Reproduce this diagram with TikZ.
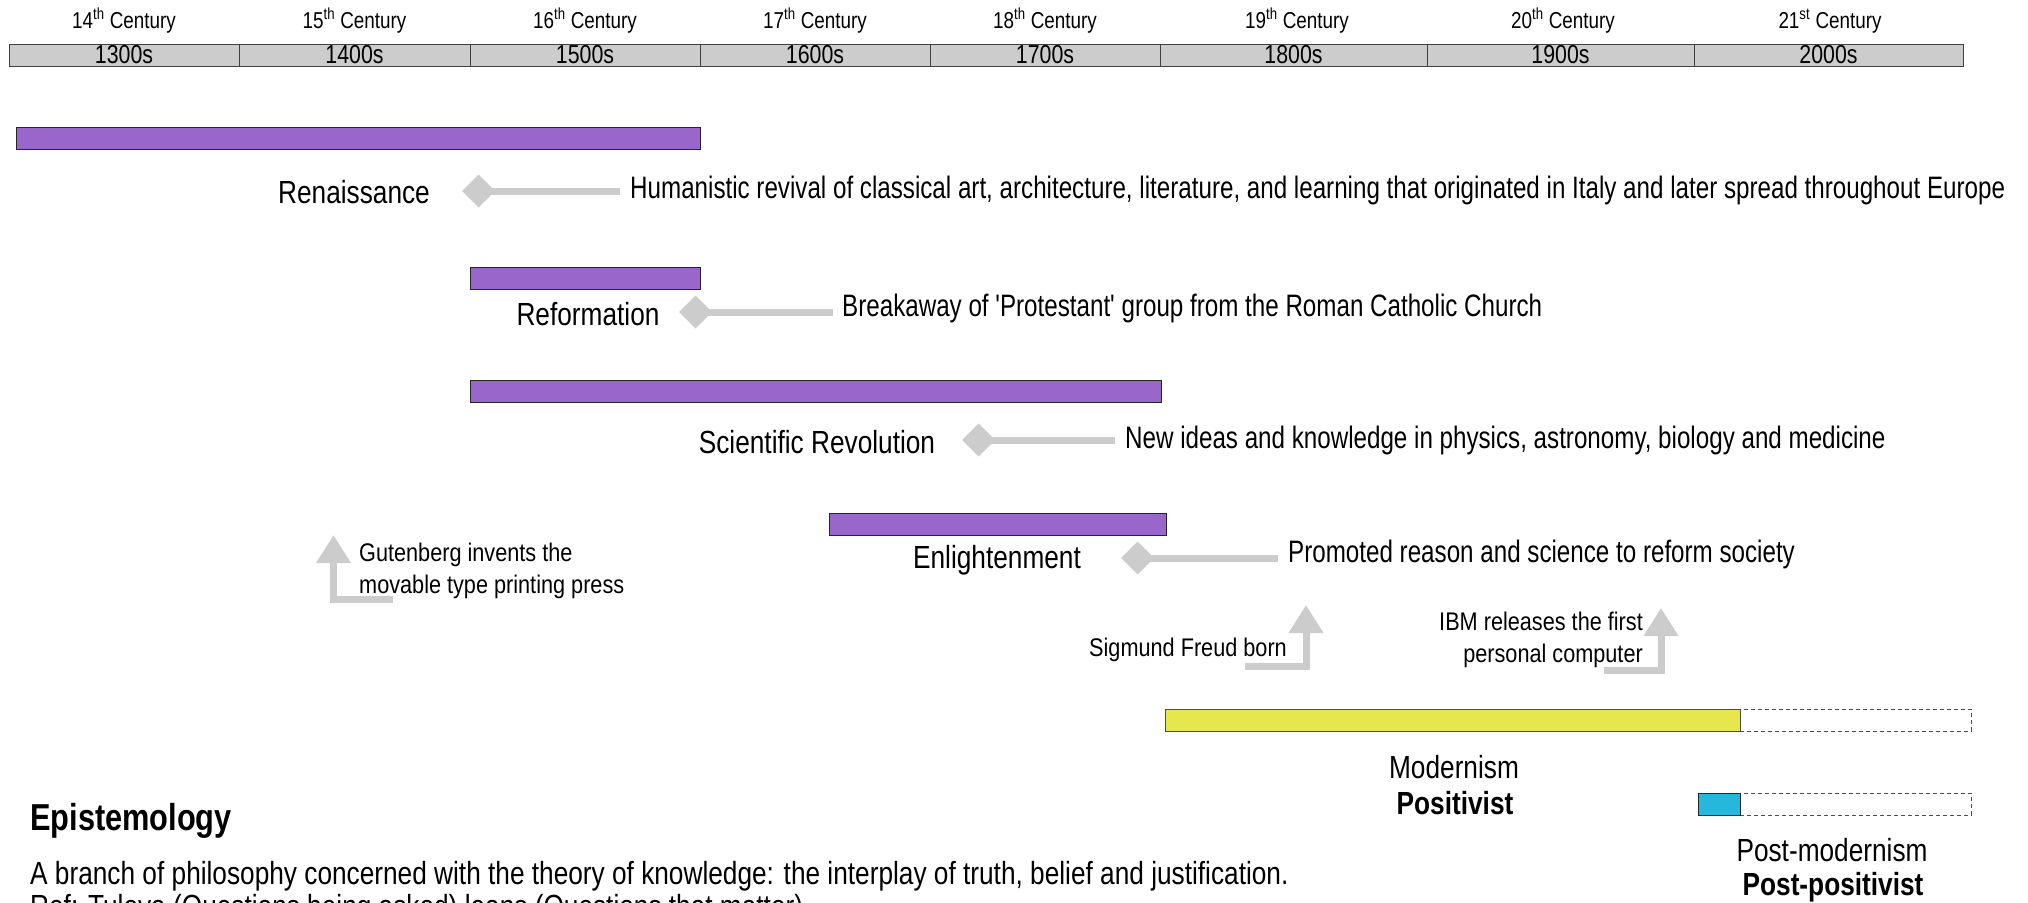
\documentclass[tikz,border=0pt]{standalone}
\usepackage{fontspec}
\setmainfont[FakeStretch=0.82]{Liberation Sans}
\newfontfamily\descfont[FakeStretch=0.78]{Liberation Sans}
\newfontfamily\notefont[FakeStretch=0.85]{Liberation Sans}
\usetikzlibrary{arrows.meta}
\definecolor{purp}{RGB}{153,102,204}
\definecolor{yel}{RGB}{230,230,77}
\definecolor{cyn}{RGB}{36,185,220}
\definecolor{lgray}{RGB}{204,204,204}
\definecolor{hdr}{RGB}{204,204,204}
\newcommand\fsCent{\fontsize{23}{27}\selectfont}
\newcommand\fsDec{\fontsize{26}{29}\selectfont}
\newcommand\fsMain{\fontsize{32}{38}\selectfont}
\newcommand\fsDesc{\descfont\fontsize{31}{37}\selectfont}
\newcommand\fsSmall{\notefont\fontsize{25.5}{32}\selectfont}
\newcommand\fsTitle{\fontsize{37.5}{44}\selectfont}
\tikzset{
  decade/.style={draw=black!75, line width=1pt, fill=hdr, inner sep=0pt, minimum height=22pt, font=\fsDec},
  cent/.style={inner sep=0pt, font=\fsCent},
  era/.style={draw=black!85, line width=1pt, inner sep=0pt, minimum height=22pt},
  future/.style={draw=black!70, line width=1pt, dashed, dash pattern=on 4pt off 3pt, inner sep=0pt, minimum height=22pt},
  lbl/.style={inner sep=0pt, font=\fsMain},
  desc/.style={inner sep=0pt, font=\fsDesc, anchor=west},
  note/.style={inner sep=0pt, font=\fsSmall},
  conn/.style={draw=lgray, line width=7pt, -{Diamond[length=33pt,width=33pt,fill=lgray]}},
  bent/.style={draw=lgray, line width=7pt, miter limit=10, -{Triangle[length=28pt,width=33pt,fill=lgray]}}
}
\begin{document}
\begin{tikzpicture}[x=1pt,y=-1pt]
\useasboundingbox (0,0) rectangle (2028,902);
\clip (0,0) rectangle (2028,902);
% header
\node[decade, minimum width=230pt] (d13) at (124,55) {1300s};
\node[decade, minimum width=231pt] (d14) at (354.5,55) {1400s};
\node[decade, minimum width=230pt] (d15) at (585,55) {1500s};
\node[decade, minimum width=230pt] (d16) at (815,55) {1600s};
\node[decade, minimum width=230pt] (d17) at (1045,55) {1700s};
\node[decade, minimum width=267pt] (d18) at (1293.5,55) {1800s};
\node[decade, minimum width=267pt] (d19) at (1560.5,55) {1900s};
\node[decade, minimum width=269pt] (d20) at (1828.5,55) {2000s};
\node[cent] (c14) at (124,21) {14\textsuperscript{th} Century};
\node[cent] (c15) at (354.5,21) {15\textsuperscript{th} Century};
\node[cent] (c16) at (585,21) {16\textsuperscript{th} Century};
\node[cent] (c17) at (815,21) {17\textsuperscript{th} Century};
\node[cent] (c18) at (1045,21) {18\textsuperscript{th} Century};
\node[cent] (c19) at (1297,21) {19\textsuperscript{th} Century};
\node[cent] (c20) at (1563,21) {20\textsuperscript{th} Century};
\node[cent] (c21) at (1830,21) {21\textsuperscript{st} Century};
% era bars
\node[era, fill=purp, minimum width=684pt] (renB) at (358,138.5) {};
\node[era, fill=purp, minimum width=230pt] (refB) at (585,278) {};
\node[era, fill=purp, minimum width=691pt] (sciB) at (815.5,391) {};
\node[era, fill=purp, minimum width=337pt] (enlB) at (997.5,524) {};
\node[future, minimum width=231pt] (modF) at (1855.5,720) {};
\node[future, minimum width=231pt] (posF) at (1855.5,804) {};
\node[era, fill=yel, draw=black!70, minimum width=575pt] (modB) at (1452.5,720) {};
\node[era, fill=cyn, minimum width=42pt] (posB) at (1719,804) {};
% labels
\node[lbl] (renL) at (354,192) {Renaissance};
\node[lbl] (refL) at (588,314) {Reformation};
\node[lbl] (sciL) at (817,442) {Scientific Revolution};
\node[lbl] (enlL) at (997,560) {Enlightenment};
\node[lbl] (modL) at (1454,767) {Modernism};
\node[lbl, font=\fsMain\bfseries] (modP) at (1455,803) {Positivist};
\node[lbl] (posL) at (1832,850) {Post-modernism};
\node[lbl, font=\fsMain\bfseries] (posP) at (1833,887) {Post-positivist};
% descriptions
\node[desc] (renT) at (630,190) {Humanistic revival of classical art, architecture, literature, and learning that originated in Italy and later spread throughout Europe};
\node[desc] (refT) at (842,308) {Breakaway of 'Protestant' group from the Roman Catholic Church};
\node[desc] (sciT) at (1125,440) {New ideas and knowledge in physics, astronomy, biology and medicine};
\node[desc] (enlT) at (1288,554) {Promoted reason and science to reform society};
\coordinate (renD) at (462,191);
\coordinate (refD) at (679,312);
\coordinate (sciD) at (962,440);
\coordinate (enlD) at (1121,558);
\draw[conn] ([xshift=-10pt]renT.west |- renD) -- (renD);
\draw[conn] ([xshift=-9pt]refT.west |- refD) -- (refD);
\draw[conn] ([xshift=-10pt]sciT.west |- sciD) -- (sciD);
\draw[conn] ([xshift=-10pt]enlT.west |- enlD) -- (enlD);
% events
\node[note, anchor=west, align=left] (gutT) at (359,571) {Gutenberg invents the\\movable type printing press};
\node[note, anchor=east] (freT) at (1287,650) {Sigmund Freud born};
\node[note, anchor=east, align=right] (ibmT) at (1643,640) {IBM releases the first\\personal computer};
\coordinate (gutS) at (393,599.5);
\coordinate (gutC) at (333.5,599.5);
\coordinate (gutA) at (333.5,535);
\coordinate (freS) at (1245,666);
\coordinate (freC) at (1306,666);
\coordinate (freA) at (1306,605);
\coordinate (ibmS) at (1604,670);
\coordinate (ibmC) at (1661,670);
\coordinate (ibmA) at (1661,608);
\draw[bent] (gutS) -- (gutC) -- (gutA);
\draw[bent] (freS) -- (freC) -- (freA);
\draw[bent] (ibmS) -- (ibmC) -- (ibmA);
% epistemology
\node[inner sep=0pt, anchor=west, font=\fsTitle\bfseries] (epiH) at (30,821) {Epistemology};
\node[lbl, anchor=west] (epiT) at (30,876) {A branch of philosophy concerned with the theory of knowledge: the interplay of truth, belief and justification.};
\node[lbl, anchor=north west] (refs) at (30,894) {Ref: Tuleya (Questions being asked) leans (Questions that matter)};
\end{tikzpicture}
\end{document}
